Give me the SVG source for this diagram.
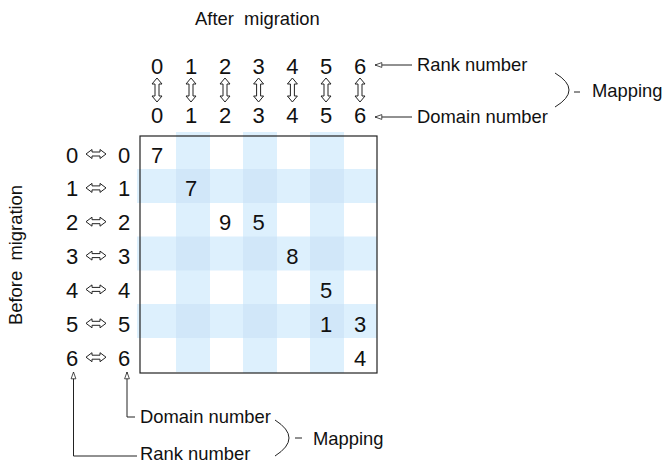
<svg xmlns="http://www.w3.org/2000/svg" width="663" height="464" viewBox="0 0 663 464">
<defs>
<style>
text{font-family:"Liberation Sans",Arial,sans-serif;fill:#111}
.d{font-size:22px;text-anchor:middle}
.l{font-size:18.4px}
.ln{fill:none;stroke:#222;stroke-width:1}
.ar{fill:#fff;stroke:#222;stroke-width:1;stroke-linejoin:miter}
.st{fill:#ddf0fd}
.sx{fill:#d1e7f9}
</style>
<marker id="oh" viewBox="0 0 10 8" refX="9.5" refY="4" markerWidth="8" markerHeight="6.4" markerUnits="userSpaceOnUse" orient="auto">
<path d="M9.5,4 L1,1 L1,7 Z" fill="#fff" stroke="#222" stroke-width="1"/>
</marker>
</defs>
<rect width="663" height="464" fill="#fff"/>

<g id="title-after"><text class="l" x="195" y="25" style="white-space:pre">After  migration</text></g>
<g id="title-before"><text class="l" transform="translate(22,325) rotate(-90)" style="white-space:pre">Before  migration</text></g>

<g id="matrix">
<rect class="st" x="176" y="132" width="34" height="240"/>
<rect class="st" x="243" y="132" width="34" height="241"/>
<rect class="st" x="310" y="132" width="34" height="241"/>
<rect class="st" x="137" y="169" width="240" height="34"/>
<rect class="st" x="137" y="236.5" width="240" height="34"/>
<rect class="st" x="137" y="304" width="240" height="34"/>
<rect class="sx" x="176" y="169" width="34" height="34"/>
<rect class="sx" x="243" y="169" width="34" height="34"/>
<rect class="sx" x="310" y="169" width="34" height="34"/>
<rect class="sx" x="176" y="236.5" width="34" height="34"/>
<rect class="sx" x="243" y="236.5" width="34" height="34"/>
<rect class="sx" x="310" y="236.5" width="34" height="34"/>
<rect class="sx" x="176" y="304" width="34" height="34"/>
<rect class="sx" x="243" y="304" width="34" height="34"/>
<rect class="sx" x="310" y="304" width="34" height="34"/>
<rect x="140" y="136" width="237" height="237" fill="none" stroke="#222" stroke-width="1.2"/>
<text class="d" x="157" y="162.5">7</text>
<text class="d" x="191" y="196.4">7</text>
<text class="d" x="225" y="230.2">9</text>
<text class="d" x="258.6" y="230.2">5</text>
<text class="d" x="292.4" y="264.1">8</text>
<text class="d" x="326" y="297.9">5</text>
<text class="d" x="326" y="331.8">1</text>
<text class="d" x="360" y="331.8">3</text>
<text class="d" x="360" y="365.7">4</text>
</g>

<g id="top-rank">
<text class="d" x="157" y="74">0</text><text class="d" x="191" y="74">1</text><text class="d" x="225" y="74">2</text><text class="d" x="258.6" y="74">3</text><text class="d" x="292.4" y="74">4</text><text class="d" x="326" y="74">5</text><text class="d" x="360" y="74">6</text>
</g>
<g id="top-domain">
<text class="d" x="157" y="123">0</text><text class="d" x="191" y="123">1</text><text class="d" x="225" y="123">2</text><text class="d" x="258.6" y="123">3</text><text class="d" x="292.4" y="123">4</text><text class="d" x="326" y="123">5</text><text class="d" x="360" y="123">6</text>
</g>
<g id="left-rank">
<text class="d" x="72" y="162.5">0</text><text class="d" x="72" y="196.4">1</text><text class="d" x="72" y="230.2">2</text><text class="d" x="72" y="264.1">3</text><text class="d" x="72" y="297.9">4</text><text class="d" x="72" y="331.8">5</text><text class="d" x="72" y="365.7">6</text>
</g>
<g id="left-domain">
<text class="d" x="124" y="162.5">0</text><text class="d" x="124" y="196.4">1</text><text class="d" x="124" y="230.2">2</text><text class="d" x="124" y="264.1">3</text><text class="d" x="124" y="297.9">4</text><text class="d" x="124" y="331.8">5</text><text class="d" x="124" y="365.7">6</text>
</g>

<g id="label-rank-top"><text class="l" x="417" y="71">Rank number</text></g>
<g id="label-domain-top"><text class="l" x="417" y="123">Domain number</text></g>
<g id="label-mapping-top"><text class="l" x="592" y="97">Mapping</text></g>
<g id="label-domain-bottom"><text class="l" x="140" y="423">Domain number</text></g>
<g id="label-rank-bottom"><text class="l" x="140" y="460">Rank number</text></g>
<g id="label-mapping-bottom"><text class="l" x="313" y="445">Mapping</text></g>

<g id="connectors">
<g id="v-arrows">
<path class="ar" d="M157,78 L162,84 L159,84 L159,96 L162,96 L157,102 L152,96 L155,96 L155,84 L152,84 Z"/>
<path class="ar" d="M191,78 L196,84 L193,84 L193,96 L196,96 L191,102 L186,96 L189,96 L189,84 L186,84 Z"/>
<path class="ar" d="M225,78 L230,84 L227,84 L227,96 L230,96 L225,102 L220,96 L223,96 L223,84 L220,84 Z"/>
<path class="ar" d="M258.6,78 L263.6,84 L260.6,84 L260.6,96 L263.6,96 L258.6,102 L253.6,96 L256.6,96 L256.6,84 L253.6,84 Z"/>
<path class="ar" d="M292.4,78 L297.4,84 L294.4,84 L294.4,96 L297.4,96 L292.4,102 L287.4,96 L290.4,96 L290.4,84 L287.4,84 Z"/>
<path class="ar" d="M326,78 L331,84 L328,84 L328,96 L331,96 L326,102 L321,96 L324,96 L324,84 L321,84 Z"/>
<path class="ar" d="M360,78 L365,84 L362,84 L362,96 L365,96 L360,102 L355,96 L358,96 L358,84 L355,84 Z"/>
</g>
<g id="h-arrows">
<path class="ar" d="M86,154 L92,149.5 L92,152 L100,152 L100,149.5 L106,154 L100,158.5 L100,156 L92,156 L92,158.5 Z"/>
<path class="ar" d="M86,187.9 L92,183.4 L92,185.9 L100,185.9 L100,183.4 L106,187.9 L100,192.4 L100,189.9 L92,189.9 L92,192.4 Z"/>
<path class="ar" d="M86,221.7 L92,217.2 L92,219.7 L100,219.7 L100,217.2 L106,221.7 L100,226.2 L100,223.7 L92,223.7 L92,226.2 Z"/>
<path class="ar" d="M86,255.6 L92,251.1 L92,253.6 L100,253.6 L100,251.1 L106,255.6 L100,260.1 L100,257.6 L92,257.6 L92,260.1 Z"/>
<path class="ar" d="M86,289.4 L92,284.9 L92,287.4 L100,287.4 L100,284.9 L106,289.4 L100,293.9 L100,291.4 L92,291.4 L92,293.9 Z"/>
<path class="ar" d="M86,323.3 L92,318.8 L92,321.3 L100,321.3 L100,318.8 L106,323.3 L100,327.8 L100,325.3 L92,325.3 L92,327.8 Z"/>
<path class="ar" d="M86,357.2 L92,352.7 L92,355.2 L100,355.2 L100,352.7 L106,357.2 L100,361.7 L100,359.2 L92,359.2 L92,361.7 Z"/>
</g>
<path class="ln" d="M412,65 L375,65" marker-end="url(#oh)"/>
<path class="ln" d="M412,117 L375,117" marker-end="url(#oh)"/>
<path class="ln" d="M135,417 L127,417 L127,372" marker-end="url(#oh)"/>
<path class="ln" d="M137,456 L73.5,456 L73.5,372" marker-end="url(#oh)"/>
<path class="ln" d="M555,73 Q583,90 555,107 M574,92 L580,92"/>
<path class="ln" d="M275,420 Q303,438 275,456 M295,438 L302,438"/>
</g>
</svg>
